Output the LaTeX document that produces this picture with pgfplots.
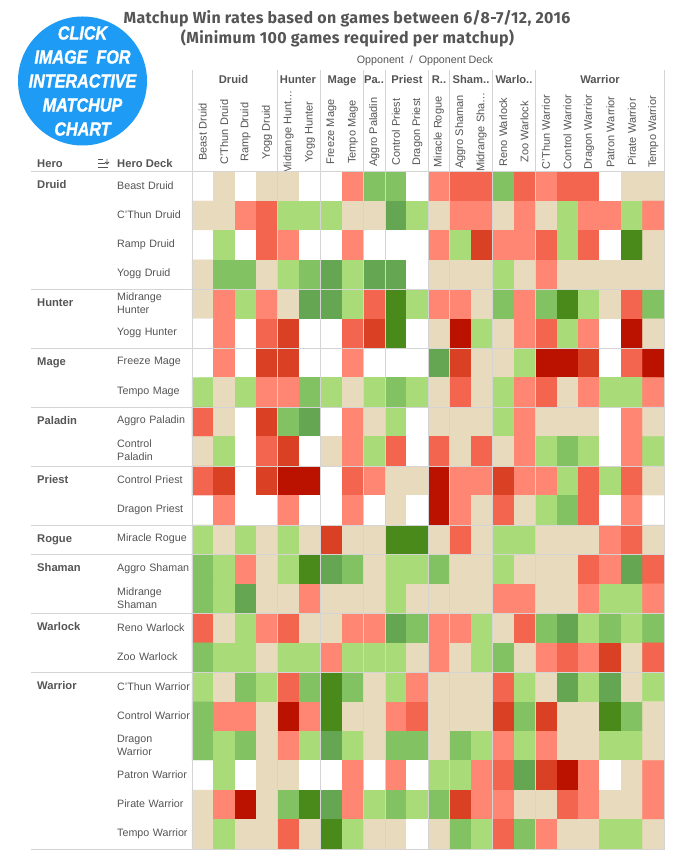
\documentclass[border=0pt]{standalone}
\usepackage{fontspec}
\setmainfont{Liberation Sans}
\newfontfamily\titlefont[LetterSpace=2.3]{Fira Sans}
\newfontfamily\badgefont[BoldItalicFeatures={FakeBold=1.6}]{Liberation Sans}
\usepackage{pgfplots}
\pgfplotsset{compat=1.18}
\definecolor{txt}{HTML}{555555}
\definecolor{sep}{HTML}{D4D4D4}
\definecolor{badge}{HTML}{1E9BF5}
\newcommand{\lab}{\fontsize{10.7}{13}\selectfont}
\newcommand{\blab}{\fontsize{11.2}{13}\selectfont\bfseries}
\begin{document}
\begin{tikzpicture}
\useasboundingbox (0pt,0pt) rectangle (679pt,857pt);
\fill[white] (0pt,0pt) rectangle (679pt,857pt);
\begin{axis}[
  at={(192pt,8pt)},anchor=south west,
  scale only axis,width=472pt,height=677.5pt,
  xmin=-0.5,xmax=21.5,ymin=-0.5,ymax=22.5,
  y dir=reverse,
  axis line style={draw=none},
  major tick length=0pt,
  xtick={0,...,21},ytick={0,...,22},
  xticklabel pos=upper,
  xticklabels={Beast Druid,C'Thun Druid,Ramp Druid,Yogg Druid,Midrange Hunt…,Yogg Hunter,Freeze Mage,Tempo Mage,Aggro Paladin,Control Priest,Dragon Priest,Miracle Rogue,Aggro Shaman,Midrange Sha…,Reno Warlock,Zoo Warlock,C'Thun Warrior,Control Warrior,Dragon Warrior,Patron Warrior,Pirate Warrior,Tempo Warrior},
  yticklabels={Beast Druid,C'Thun Druid,Ramp Druid,Yogg Druid,{Midrange\\Hunter},Yogg Hunter,Freeze Mage,Tempo Mage,Aggro Paladin,{Control\\Paladin},Control Priest,Dragon Priest,Miracle Rogue,Aggro Shaman,{Midrange\\Shaman},Reno Warlock,Zoo Warlock,C'Thun Warrior,Control Warrior,{Dragon\\Warrior},Patron Warrior,Pirate Warrior,Tempo Warrior},
  xticklabel style={font=\fontsize{11}{13}\selectfont,text=txt,yshift=39.5pt,rotate=90,anchor=center},
  yticklabel style={font=\lab,text=txt,anchor=west,align=left,text width=76pt,xshift=-75pt,yshift=0.7pt,inner sep=0pt},
  colormap={hs}{rgb255=(187,18,0) rgb255=(217,64,36) rgb255=(243,101,78) rgb255=(255,134,115) rgb255=(232,218,188) rgb255=(169,220,120) rgb255=(131,194,98) rgb255=(101,166,82) rgb255=(74,138,26) rgb255=(255,255,255)},
  colormap access=piecewise constant,
  point meta min=-0.5,point meta max=9.5,
  clip=false,
]
\addplot[matrix plot*,mesh/cols=22,point meta=explicit] table[row sep=\\,header=false,x expr={\coordindex-22*floor((\coordindex+0.5)/22)},y expr={floor((\coordindex+0.5)/22)},meta index=0]{
9\\4\\9\\4\\4\\9\\9\\3\\6\\6\\9\\3\\2\\2\\6\\2\\3\\2\\2\\9\\4\\4\\
4\\4\\3\\2\\5\\5\\5\\4\\4\\7\\5\\4\\3\\3\\4\\3\\4\\5\\3\\3\\5\\3\\
9\\5\\9\\2\\3\\9\\9\\3\\9\\9\\9\\3\\5\\1\\3\\3\\2\\5\\2\\9\\8\\4\\
4\\6\\6\\4\\5\\6\\7\\5\\7\\7\\9\\4\\4\\4\\5\\4\\3\\4\\4\\4\\4\\4\\
4\\3\\5\\3\\4\\7\\7\\5\\2\\8\\5\\3\\3\\4\\6\\3\\6\\8\\5\\4\\2\\6\\
9\\3\\9\\2\\1\\9\\9\\2\\1\\8\\9\\4\\0\\5\\4\\3\\2\\5\\3\\9\\0\\4\\
9\\3\\9\\1\\1\\9\\9\\3\\9\\9\\9\\7\\1\\4\\4\\5\\0\\0\\1\\9\\2\\0\\
5\\4\\5\\3\\3\\6\\5\\4\\5\\6\\5\\4\\2\\4\\5\\3\\2\\4\\3\\5\\5\\3\\
2\\4\\9\\1\\6\\7\\9\\3\\4\\5\\9\\4\\4\\4\\5\\3\\4\\4\\4\\9\\3\\4\\
4\\5\\9\\2\\1\\9\\4\\3\\5\\2\\9\\2\\4\\2\\4\\3\\5\\6\\5\\9\\3\\5\\
2\\1\\9\\1\\0\\0\\9\\2\\3\\4\\4\\0\\3\\3\\1\\3\\3\\5\\2\\5\\2\\4\\
9\\3\\9\\9\\3\\9\\9\\3\\9\\4\\9\\0\\3\\4\\2\\4\\5\\6\\2\\9\\3\\9\\
5\\4\\5\\4\\5\\4\\1\\4\\4\\8\\8\\4\\2\\4\\5\\5\\4\\4\\4\\3\\2\\4\\
6\\5\\3\\4\\5\\8\\7\\6\\4\\5\\5\\6\\4\\4\\5\\4\\4\\4\\2\\3\\7\\2\\
6\\5\\7\\4\\4\\3\\4\\4\\4\\5\\4\\4\\4\\4\\3\\3\\4\\4\\3\\5\\5\\3\\
2\\4\\5\\3\\2\\4\\4\\3\\3\\7\\6\\3\\3\\5\\4\\2\\6\\7\\5\\6\\5\\6\\
6\\5\\5\\4\\5\\5\\3\\5\\5\\5\\4\\3\\4\\5\\6\\4\\3\\2\\3\\1\\4\\2\\
5\\4\\6\\5\\2\\6\\8\\6\\4\\5\\3\\4\\4\\4\\2\\5\\4\\7\\5\\7\\4\\5\\
6\\3\\3\\4\\0\\3\\8\\4\\4\\3\\2\\4\\4\\4\\1\\6\\1\\4\\4\\8\\6\\4\\
6\\5\\6\\4\\3\\5\\7\\5\\4\\6\\6\\4\\6\\5\\3\\5\\3\\4\\4\\5\\5\\4\\
9\\5\\9\\4\\4\\9\\9\\3\\9\\3\\9\\5\\5\\3\\2\\7\\1\\0\\3\\9\\4\\3\\
4\\3\\0\\4\\6\\8\\7\\3\\5\\6\\5\\6\\1\\3\\3\\4\\4\\2\\3\\4\\4\\3\\
4\\5\\4\\4\\2\\4\\8\\5\\4\\4\\9\\4\\6\\5\\2\\6\\3\\4\\4\\5\\5\\4\\
};
\end{axis}
\begin{scope}[x=1pt,y=-1pt,yshift=857pt]
% separators
\foreach \x in {192,277.5,320.5,363.3,385.3,428.3,449.3,492.3,535.3,664.3}
  \draw[sep,line width=1pt] (\x,70) -- (\x,849.5);
\foreach \y in {171.5,289.7,348.6,407.3,466.3,525.3,554.5,613.5,672.3,849.3}
  \draw[sep,line width=1pt] (31,\y) -- (664.8,\y);
% titles
\node[text=txt,font=\titlefont\fontsize{16}{18}\selectfont\bfseries] at (347,19) {Matchup Win rates based on games between 6/8-7/12, 2016};
\node[text=txt,font=\titlefont\fontsize{16}{18}\selectfont\bfseries] at (347.5,38) {(Minimum 100 games required per matchup)};
\node[text=txt,font=\lab] at (425,60.5) {Opponent\ \ /\ \ Opponent Deck};
% top group headers
\foreach \x/\t in {233.5/Druid,298/Hunter,342/Mage,374/Pa..,407/Priest,439/R..,471/Sham..,514/Warlo..,600/Warrior}
  \node[text=txt,font=\blab,anchor=base] at (\x,84) {\t};
% left group headers
\foreach \y/\t in {189/Druid,307/Hunter,366/Mage,425/Paladin,484/Priest,543/Rogue,572/Shaman,631/Warlock,690/Warrior}
  \node[text=txt,font=\blab,anchor=base west,inner sep=0pt] at (37,\y) {\t};
\node[text=txt,font=\blab,anchor=base west,inner sep=0pt] at (37,168) {Hero};
\node[text=txt,font=\blab,anchor=base west,inner sep=0pt] at (117,168) {Hero Deck};
% sort icon
\draw[txt,line width=1pt] (98,160) -- (103,160) (98,164) -- (105,164) (98,167.5) -- (108,167.5);
\draw[txt,line width=0.9pt] (107,159) -- (107,164) (105,162) -- (107,164) -- (109,162);
% badge
\fill[badge] (82.5,81) circle[radius=64.5];
\foreach \y/\t in {33/CLICK,57/IMAGE\ \ FOR,81/INTERACTIVE,105/MATCHUP,129/CHART}
  \node[white,font=\badgefont\fontsize{19}{20}\selectfont\bfseries\itshape,xscale=0.85] at (82.5,\y) {\t};
\end{scope}
\end{tikzpicture}
\end{document}
